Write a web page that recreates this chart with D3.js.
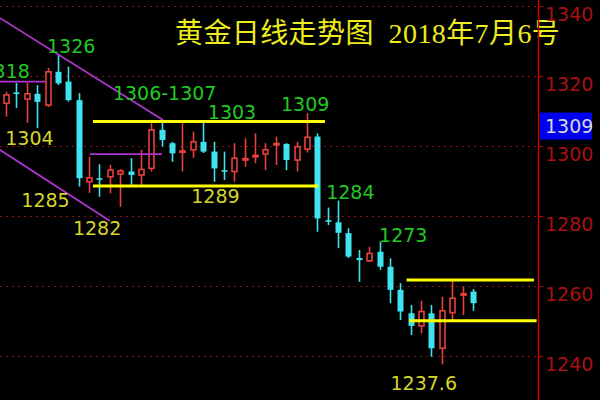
<!DOCTYPE html>
<html><head><meta charset="utf-8">
<script src="https://cdn.jsdelivr.net/npm/d3@7/dist/d3.min.js"></script>
<style>html,body{margin:0;padding:0;background:#000;}svg{display:block;}</style>
</head><body>
<svg id="c" width="600" height="400"></svg>
<script>
// ---- data ----
const categories = d3.range(46);
const openV  = [1312.2,1315.3,1313.4,1314.9,1311.7,1321.2,1318.4,1313.1,1289.8,1290.8,
                1291.2,1292.0,1292.7,1291.7,1293.6,1304.6,1300.8,1298.2,1298.9,1301.2,
                1298.4,1293.1,1292.7,1296.0,1296.9,1297.7,1300.3,1300.6,1296.0,1299.1,
                1302.7,1278.8,1278.2,1275.1,1268.0,1267.2,1269.8,1265.5,1258.9,1252.2,
                1248.6,1252.2,1242.2,1252.4,1257.4,1258.4];
const highV  = [1315.5,1318.0,1318.0,1317.4,1322.3,1326.0,1322.7,1315.1,1296.9,1294.8,
                1294.6,1293.4,1296.5,1298.9,1306.5,1307.4,1301.2,1306.5,1304.1,1306.6,
                1301.2,1298.4,1300.8,1302.2,1303.6,1300.8,1302.7,1300.8,1301.2,1309.4,
                1303.6,1282.4,1284.4,1276.5,1270.3,1271.2,1272.7,1267.9,1260.8,1254.6,
                1255.8,1254.6,1256.9,1261.5,1259.8,1259.1];
const lowV   = [1308.4,1310.9,1306.6,1305.1,1311.1,1317.4,1312.7,1288.4,1286.6,1285.5,
                1286.5,1282.6,1288.9,1288.9,1292.7,1299.8,1295.5,1292.7,1296.6,1298.0,
                1289.8,1290.3,1289.8,1294.1,1295.1,1293.1,1294.6,1293.1,1292.7,1298.1,
                1275.5,1277.4,1270.8,1268.0,1261.2,1266.9,1264.6,1255.1,1250.3,1246.0,
                1246.5,1239.8,1237.6,1250.1,1251.7,1252.9];
const closeV = [1314.6,1314.9,1314.9,1312.6,1321.2,1317.9,1313.1,1290.8,1290.9,1290.4,
                1293.1,1292.9,1291.7,1293.3,1304.6,1301.7,1297.9,1298.6,1301.2,1298.4,
                1293.6,1292.7,1296.5,1296.4,1297.3,1298.9,1300.7,1296.0,1299.8,1302.5,
                1279.3,1278.4,1275.2,1268.4,1267.4,1269.3,1265.5,1258.9,1252.7,1248.6,
                1252.7,1242.2,1252.9,1256.5,1257.8,1255.1];
const tickValues = [1240,1260,1280,1300,1320,1340];
const titleText = "黄金日线走势图  2018年7月6号";
const lastPrice = "1309";
// annotation labels: [text, index, price]
const greenLabels = [["1326",3.95,1326.6],["1318",2.3,1319.4],["1306-1307",10.3,1313.1],
                     ["1303",19.45,1307.7],["1309",26.5,1310.1],["1284",30.85,1284.8],["1273",35.95,1272.7]];
const yellowLabels = [["1304",-0.07,1300.3],["1285",1.48,1282.5],["1282",6.45,1274.6],
                      ["1289",17.85,1283.6],["1237.6",37.05,1230.3]];
// level lines: [i0, i1, price]
const yellowLevels = [[8.38,30.73,1307.0],[8.38,30.09,1288.6],[38.6,50.87,1261.7],[38.85,51.13,1250.1]];
// purple lines: [i0, p0, i1, p1]
const purpleLines = [[-0.6,1336.6,15.13,1307.4],[-0.6,1298.9,10.02,1278.6],
                     [-0.6,1318.4,3.76,1318.4],[8.09,1297.7,15.03,1297.7]];

// ---- drawing ----
const svg = d3.select("#c");
svg.append("rect").attr("width",600).attr("height",400).attr("fill","#000");
const x = d3.scaleLinear().domain([0,45]).range([6,473]);
const y = d3.scaleLinear().domain([1240,1340]).range([356,6]);
const axisX = 538;

// grid
svg.append("g").selectAll("line").data(tickValues).join("line")
  .attr("x1",0).attr("x2",axisX).attr("y1",d=>y(d)+0.5).attr("y2",d=>y(d)+0.5)
  .attr("stroke","#8a1010").attr("stroke-width",1.2).attr("stroke-dasharray","2,4");

// title
svg.append("text").attr("x",175).attr("y",43)
  .attr("font-family","'Liberation Serif','Noto Sans CJK SC'").attr("font-size",28)
  .attr("letter-spacing",0.4)
  .attr("fill","#ecec1e").attr("xml:space","preserve").style("white-space","pre").text(titleText);

// candles
const RED="#e8403c", CYAN="#3fe3ef";
const bw = 6;
const g = svg.append("g");
categories.forEach(i=>{
  const o=openV[i], c=closeV[i], h=highV[i], l=lowV[i];
  const up = c>=o;
  const cx = Math.round(x(i))+0.5;
  const top = y(Math.max(o,c)), bot = y(Math.min(o,c));
  const col = up?RED:CYAN;
  if(up){
    g.append("line").attr("x1",cx).attr("x2",cx).attr("y1",y(h)).attr("y2",top).attr("stroke",col).attr("stroke-width",1.6);
    g.append("line").attr("x1",cx).attr("x2",cx).attr("y1",bot).attr("y2",y(l)).attr("stroke",col).attr("stroke-width",1.6);
    g.append("rect").attr("x",cx-bw/2+0.5).attr("y",top).attr("width",bw-1).attr("height",Math.max(bot-top,1))
      .attr("fill","#000").attr("stroke",col).attr("stroke-width",1.6);
  } else {
    g.append("line").attr("x1",cx).attr("x2",cx).attr("y1",y(h)).attr("y2",y(l)).attr("stroke",col).attr("stroke-width",1.6);
    g.append("rect").attr("x",cx-bw/2).attr("y",top).attr("width",bw).attr("height",Math.max(bot-top,1.6))
      .attr("fill",col);
  }
});

// purple lines
svg.append("g").selectAll("line").data(purpleLines).join("line")
  .attr("x1",d=>x(d[0])).attr("y1",d=>y(d[1])).attr("x2",d=>x(d[2])).attr("y2",d=>y(d[3]))
  .attr("stroke","#b035d0").attr("stroke-width",1.8);

// yellow levels
svg.append("g").selectAll("line").data(yellowLevels).join("line")
  .attr("x1",d=>x(d[0])).attr("x2",d=>x(d[1])).attr("y1",d=>y(d[2])).attr("y2",d=>y(d[2]))
  .attr("stroke","#ffff00").attr("stroke-width",3);

// labels
const lf = "'DejaVu Sans', Verdana, sans-serif";
svg.append("g").selectAll("text").data(greenLabels).join("text")
  .attr("x",d=>x(d[1])).attr("y",d=>y(d[2])).attr("font-family",lf).attr("font-size",19)
  .attr("text-anchor",d=>d[0]==="1318"?"end":"start")
  .attr("fill","#22c822").text(d=>d[0]);
svg.append("g").selectAll("text").data(yellowLabels).join("text")
  .attr("x",d=>x(d[1])).attr("y",d=>y(d[2])).attr("font-family",lf).attr("font-size",19)
  .attr("fill","#d6d62a").text(d=>d[0]);

// right axis
const ax = svg.append("g").attr("transform",`translate(${axisX},0)`)
  .call(d3.axisRight(y).tickValues(tickValues).tickSize(5).tickPadding(2).tickFormat(d3.format("d")));
ax.select(".domain").remove();
ax.append("line").attr("x1",0.5).attr("x2",0.5).attr("y1",0).attr("y2",400).attr("stroke","#c80000").attr("stroke-width",1.5);
ax.selectAll(".tick line").attr("stroke","#c80000");
ax.selectAll(".tick text").attr("fill","#a81010").attr("font-family",lf).attr("font-size",19).attr("dy","0.75em");

// last price box
const lp = svg.append("g");
lp.append("rect").attr("x",540).attr("y",y(1305.7)-13.5).attr("width",52).attr("height",27).attr("fill","#0000f0");
lp.append("text").attr("x",545).attr("y",y(1305.7)).attr("dy","0.36em").attr("font-family",lf).attr("font-size",19)
  .attr("fill","#d8d8d8").text(lastPrice);
</script>
</body></html>
